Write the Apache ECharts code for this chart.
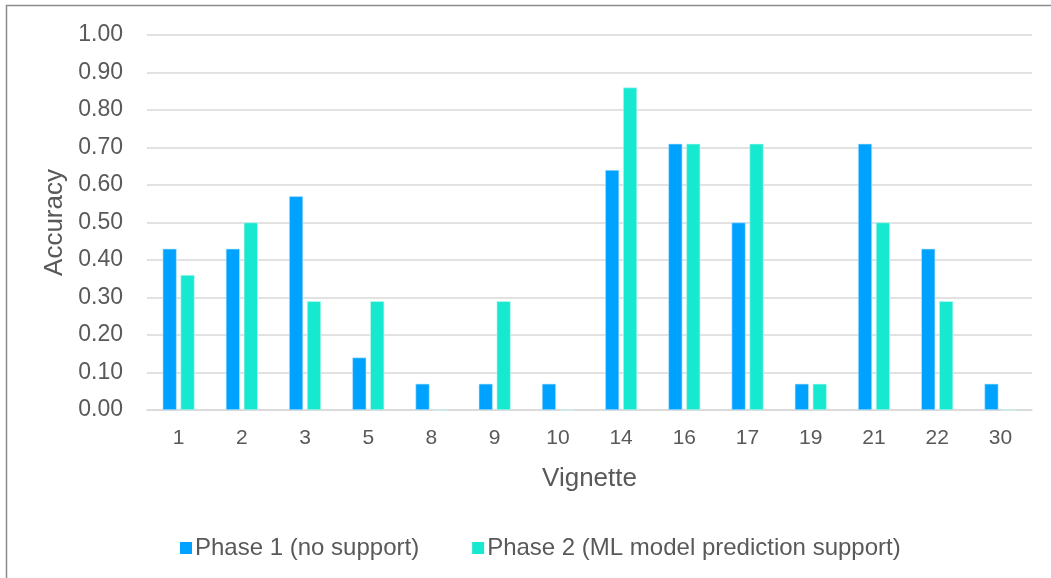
<!DOCTYPE html>
<html><head><meta charset="utf-8">
<script src="https://cdn.jsdelivr.net/npm/echarts@6/dist/echarts.min.js"></script>
<style>html,body{margin:0;padding:0;background:#fff}#c{width:1051px;height:578px}</style>
</head><body><div id="c"></div>
<script>
const categories = ['1','2','3','5','8','9','10','14','16','17','19','21','22','30'];
const phase1 = [0.43,0.43,0.57,0.14,0.07,0.07,0.07,0.64,0.71,0.50,0.07,0.71,0.43,0.07];
const phase2 = [0.36,0.50,0.29,0.29,0,0.29,0,0.86,0.71,0.71,0.07,0.50,0.29,0];
const seriesNames = ['Phase 1 (no support)','Phase 2 (ML model prediction support)'];
const font = 'Liberation Sans, Arial, sans-serif';
const chart = echarts.init(document.getElementById('c'), null, {renderer:'canvas'});
chart.setOption({
  animation:false,
  backgroundColor:'#fff',
  graphic:[{type:'rect',shape:{x:6.5,y:5.5,width:1100,height:1000},style:{fill:'none',stroke:'#8c8c8c',lineWidth:1.5},silent:true}],
  grid:{left:147,right:19,top:35,bottom:168},
  legend:{top:531,left:175,itemWidth:12,itemHeight:12,itemGap:53,icon:'rect',
    itemStyle:{borderWidth:0},
    textStyle:{fontFamily:font,fontSize:24,color:'#595959',padding:[0,0,0,-2]},
    data:seriesNames},
  xAxis:{type:'category',data:categories,
    name:'Vignette',nameLocation:'middle',nameGap:56,
    nameTextStyle:{fontFamily:font,fontSize:26,color:'#595959'},
    axisLine:{lineStyle:{color:'#d9d9d9',width:1.5}},axisTick:{show:false},
    axisLabel:{fontFamily:font,fontSize:21,color:'#595959',margin:18}},
  yAxis:{type:'value',min:0,max:1,interval:0.1,
    name:'Accuracy',nameLocation:'middle',nameGap:71,
    nameTextStyle:{fontFamily:font,fontSize:26,color:'#595959'},
    axisLine:{show:false},axisTick:{show:false},
    splitLine:{lineStyle:{color:'#d9d9d9',width:1.5}},
    axisLabel:{fontFamily:font,fontSize:23,color:'#595959',margin:24,formatter:v=>v.toFixed(2)}},
  series:[
    {name:seriesNames[0],type:'bar',data:phase1,barWidth:14,barGap:'28%',
     itemStyle:{color:'#00a2ff',borderColor:'#bfe6ff',borderWidth:0.6}},
    {name:seriesNames[1],type:'bar',data:phase2,barWidth:14,
     itemStyle:{color:'#17e8d0',borderColor:'#c5f8f1',borderWidth:0.6}}
  ]
});
</script></body></html>
